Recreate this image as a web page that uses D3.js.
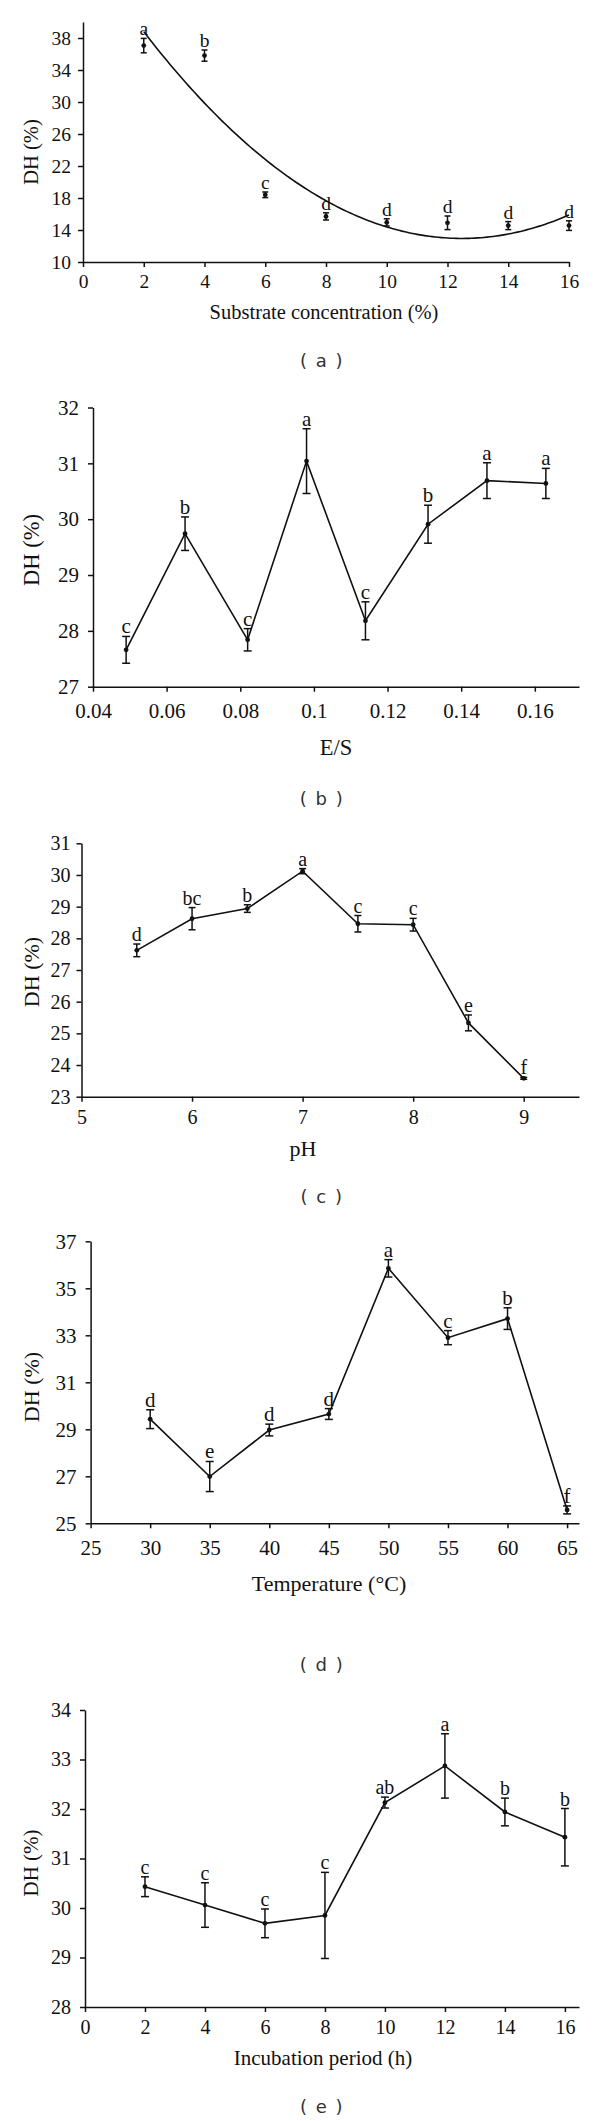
<!DOCTYPE html>
<html>
<head>
<meta charset="utf-8">
<script src="https://cdn.jsdelivr.net/npm/d3@7"></script>
<style>
body { margin: 0; background: #fff; }
</style>
</head>
<body>
<svg id="svg" width="600" height="2121"></svg>
<script>
// (a) substrate concentration
var subConc = [2, 4, 6, 8, 10, 12, 14, 16];
var subDH = [37.05, 35.8, 18.4, 15.7, 14.95, 14.9, 14.55, 14.55];
var subErr = [0.9, 0.7, 0.35, 0.45, 0.45, 0.85, 0.5, 0.6];
var subSig = ["a", "b", "c", "d", "d", "d", "d", "d"];
var subTicksX = [0, 2, 4, 6, 8, 10, 12, 14, 16];
var subTicksY = [10, 14, 18, 22, 26, 30, 34, 38];

// (b) E/S ratio
var esRatio = [0.049, 0.065, 0.082, 0.098, 0.114, 0.131, 0.147, 0.163];
var esDH = [27.66, 29.74, 27.84, 31.04, 28.18, 29.91, 30.69, 30.64];
var esErr = [0.24, 0.3, 0.2, 0.58, 0.34, 0.34, 0.32, 0.27];
var esSig = ["c", "b", "c", "a", "c", "b", "a", "a"];
var esTicksX = [0.04, 0.06, 0.08, 0.1, 0.12, 0.14, 0.16];
var esTicksY = [27, 28, 29, 30, 31, 32];

// (c) pH
var phVals = [5.5, 6, 6.5, 7, 7.5, 8, 8.5, 9];
var phDH = [27.62, 28.62, 28.94, 30.12, 28.46, 28.43, 25.33, 23.58];
var phErr = [0.2, 0.35, 0.12, 0.08, 0.26, 0.2, 0.25, 0.03];
var phSig = ["d", "bc", "b", "a", "c", "c", "e", "f"];
var phTicksX = [5, 6, 7, 8, 9];
var phTicksY = [23, 24, 25, 26, 27, 28, 29, 30, 31];

// (d) temperature
var tempVals = [30, 35, 40, 45, 50, 55, 60, 65];
var tempDH = [29.43, 26.99, 28.97, 29.65, 35.85, 32.9, 33.71, 25.57];
var tempErr = [0.4, 0.64, 0.25, 0.23, 0.37, 0.3, 0.46, 0.17];
var tempSig = ["d", "e", "d", "d", "a", "c", "b", "f"];
var tempTicksX = [25, 30, 35, 40, 45, 50, 55, 60, 65];
var tempTicksY = [25, 27, 29, 31, 33, 35, 37];

// (e) incubation period
var timeVals = [2, 4, 6, 8, 10, 12, 14, 16];
var timeDH = [30.43, 30.06, 29.69, 29.85, 32.13, 32.87, 31.94, 31.43];
var timeErr = [0.2, 0.45, 0.29, 0.87, 0.11, 0.65, 0.28, 0.58];
var timeSig = ["c", "c", "c", "c", "ab", "a", "b", "b"];
var timeTicksX = [0, 2, 4, 6, 8, 10, 12, 14, 16];
var timeTicksY = [28, 29, 30, 31, 32, 33, 34];

var serif = "'Liberation Serif', 'Times New Roman', serif";
var ink = "#111";

var panels = [
	{xs: subConc, ys: subDH, err: subErr, sig: subSig, xTicks: subTicksX, yTicks: subTicksY,
	 xDom: [0, 16], xRange: [83, 569], yDom: [10, 40], yRange: [262, 22],
	 fs: 19.5, tfs: 20.5, xTitle: "Substrate concentration (%)", xTitleX: 324, xTitleY: 312,
	 yTitleY: 152, cap: "a", capY: 360, capW: 6, xLabOff: 20, yLabGap: 12, connect: false, trend: true},
	{xs: esRatio, ys: esDH, err: esErr, sig: esSig, xTicks: esTicksX, yTicks: esTicksY,
	 xDom: [0.04, 0.172], xRange: [93, 579], yDom: [27, 32], yRange: [686.7, 407.5],
	 fs: 21, tfs: 22.5, xTitle: "E/S", xTitleX: 336, xTitleY: 747,
	 yTitleY: 550, cap: "b", capY: 798, capW: 8, xLabOff: 24, yLabGap: 14, connect: true},
	{xs: phVals, ys: phDH, err: phErr, sig: phSig, xTicks: phTicksX, yTicks: phTicksY,
	 xDom: [5, 9.5], xRange: [81.5, 579], yDom: [23, 31], yRange: [1096.7, 843.3],
	 fs: 20, tfs: 22, xTitle: "pH", xTitleX: 303, xTitleY: 1148,
	 yTitleY: 972, cap: "c", capY: 1196, capW: 7, xLabOff: 21, yLabGap: 11, connect: true},
	{xs: tempVals, ys: tempDH, err: tempErr, sig: tempSig, xTicks: tempTicksX, yTicks: tempTicksY,
	 xDom: [25, 66], xRange: [90.6, 579], yDom: [25, 37], yRange: [1523.3, 1241.3],
	 fs: 21, tfs: 22, xTitle: "Temperature (°C)", xTitleX: 329, xTitleY: 1583,
	 yTitleY: 1387, cap: "d", capY: 1664, capW: 8, xLabOff: 25, yLabGap: 14, connect: true},
	{xs: timeVals, ys: timeDH, err: timeErr, sig: timeSig, xTicks: timeTicksX, yTicks: timeTicksY,
	 xDom: [0, 16.47], xRange: [85, 579], yDom: [28, 34], yRange: [2007, 1710],
	 fs: 20, tfs: 21, xTitle: "Incubation period (h)", xTitleX: 323, xTitleY: 2058,
	 yTitleY: 1863, cap: "e", capY: 2106, capW: 8, xLabOff: 20, yLabGap: 14, connect: true}
];

var svg = d3.select("#svg");
svg.append("rect").attr("width", 600).attr("height", 2121).attr("fill", "#fff");

panels.forEach(drawPanel);

// least squares fit y = c0 + c1 x + c2 x^2 (the polynomial trendline)
function quadFit(xs, ys) {
	var S = [0, 0, 0, 0, 0], T = [0, 0, 0];
	xs.forEach(function(x, i) {
		for (var k = 0; k < 5; k++) S[k] += Math.pow(x, k);
		for (var k = 0; k < 3; k++) T[k] += ys[i] * Math.pow(x, k);
	});
	var M = [[S[0], S[1], S[2]], [S[1], S[2], S[3]], [S[2], S[3], S[4]]];
	function det(m) {
		return m[0][0]*(m[1][1]*m[2][2]-m[1][2]*m[2][1])
			- m[0][1]*(m[1][0]*m[2][2]-m[1][2]*m[2][0])
			+ m[0][2]*(m[1][0]*m[2][1]-m[1][1]*m[2][0]);
	}
	var D = det(M);
	var c = [0, 1, 2].map(function(j) {
		var Mj = M.map(function(row, r) {
			return row.map(function(v, col) { return col == j ? T[r] : v; });
		});
		return det(Mj) / D;
	});
	return function(x) { return c[0] + c[1]*x + c[2]*x*x; };
}

function drawPanel(p) {
	var x = d3.scaleLinear().domain(p.xDom).range(p.xRange);
	var y = d3.scaleLinear().domain(p.yDom).range(p.yRange);
	var g = svg.append("g");

	// axes
	var xAxis = d3.axisBottom(x)
		.tickValues(p.xTicks)
		.tickSize(5)
		.tickSizeOuter(0)
		.tickPadding(p.xLabOff - 5 - 0.38*p.fs)
		.tickFormat(function(d){ return String(d); });
	var yAxis = d3.axisLeft(y)
		.tickValues(p.yTicks)
		.tickSize(5)
		.tickSizeOuter(0)
		.tickPadding(p.yLabGap - 5)
		.tickFormat(function(d){ return String(d); });

	g.append("g")
		.attr("transform", "translate(0," + y(p.yDom[0]) + ")")
		.call(xAxis);
	g.append("g")
		.attr("transform", "translate(" + x(p.xDom[0]) + ",0)")
		.call(yAxis);

	g.selectAll(".domain, .tick line")
		.attr("stroke", ink)
		.attr("stroke-width", 1.5);
	g.selectAll(".tick text")
		.attr("font-family", serif)
		.attr("font-size", p.fs)
		.attr("fill", ink);

	// titles
	g.append("text")
		.attr("x", p.xTitleX)
		.attr("y", p.xTitleY)
		.attr("text-anchor", "middle")
		.attr("dominant-baseline", "central")
		.attr("font-family", serif)
		.attr("font-size", p.tfs)
		.attr("fill", ink)
		.text(p.xTitle);
	g.append("text")
		.attr("transform", "translate(31," + p.yTitleY + ") rotate(-90)")
		.attr("text-anchor", "middle")
		.attr("dominant-baseline", "central")
		.attr("font-family", serif)
		.attr("font-size", p.tfs)
		.attr("fill", ink)
		.text("DH (%)");

	// caption
	g.append("text")
		.attr("x", 322)
		.attr("y", p.capY)
		.attr("text-anchor", "middle")
		.attr("dominant-baseline", "central")
		.attr("font-family", "'DejaVu Sans', sans-serif")
		.attr("font-size", 18)
		.attr("letter-spacing", 1.5)
		.attr("fill", "#333")
		.attr("xml:space", "preserve")
		.text("( " + p.cap + " )");

	var pts = p.xs.map(function(d, i) {
		return {x: d, y: p.ys[i], e: p.err[i], s: p.sig[i]};
	});

	// trendline or connecting line
	if (p.trend) {
		var f = quadFit(p.xs, p.ys);
		var xsFine = d3.range(p.xs[0], p.xs[p.xs.length-1] + 0.001, 0.1);
		g.append("path")
			.datum(xsFine)
			.attr("fill", "none")
			.attr("stroke", ink)
			.attr("stroke-width", 1.6)
			.attr("d", d3.line().x(function(d){ return x(d); }).y(function(d){ return y(f(d)); }));
	}
	if (p.connect) {
		g.append("path")
			.datum(pts)
			.attr("fill", "none")
			.attr("stroke", ink)
			.attr("stroke-width", 1.6)
			.attr("d", d3.line().x(function(d){ return x(d.x); }).y(function(d){ return y(d.y); }));
	}

	// error bars
	var eb = g.selectAll(".eb").data(pts).enter().append("g").attr("class", "eb");
	eb.append("line")
		.attr("x1", function(d){ return x(d.x); })
		.attr("x2", function(d){ return x(d.x); })
		.attr("y1", function(d){ return y(d.y + d.e); })
		.attr("y2", function(d){ return y(d.y - d.e); })
		.attr("stroke", ink).attr("stroke-width", 1.5);
	[1, -1].forEach(function(sgn) {
		eb.append("line")
			.attr("x1", function(d){ return x(d.x) - p.capW/2; })
			.attr("x2", function(d){ return x(d.x) + p.capW/2; })
			.attr("y1", function(d){ return y(d.y + sgn*d.e); })
			.attr("y2", function(d){ return y(d.y + sgn*d.e); })
			.attr("stroke", ink).attr("stroke-width", 1.5);
	});
	eb.append("circle")
		.attr("cx", function(d){ return x(d.x); })
		.attr("cy", function(d){ return y(d.y); })
		.attr("r", 2.4)
		.attr("fill", ink);

	// significance letters
	eb.append("text")
		.attr("x", function(d){ return x(d.x); })
		.attr("y", function(d){ return y(d.y + d.e) - 3; })
		.attr("text-anchor", "middle")
		.attr("font-family", serif)
		.attr("font-size", p.fs)
		.attr("fill", ink)
		.text(function(d){ return d.s; });
}
</script>
</body>
</html>
